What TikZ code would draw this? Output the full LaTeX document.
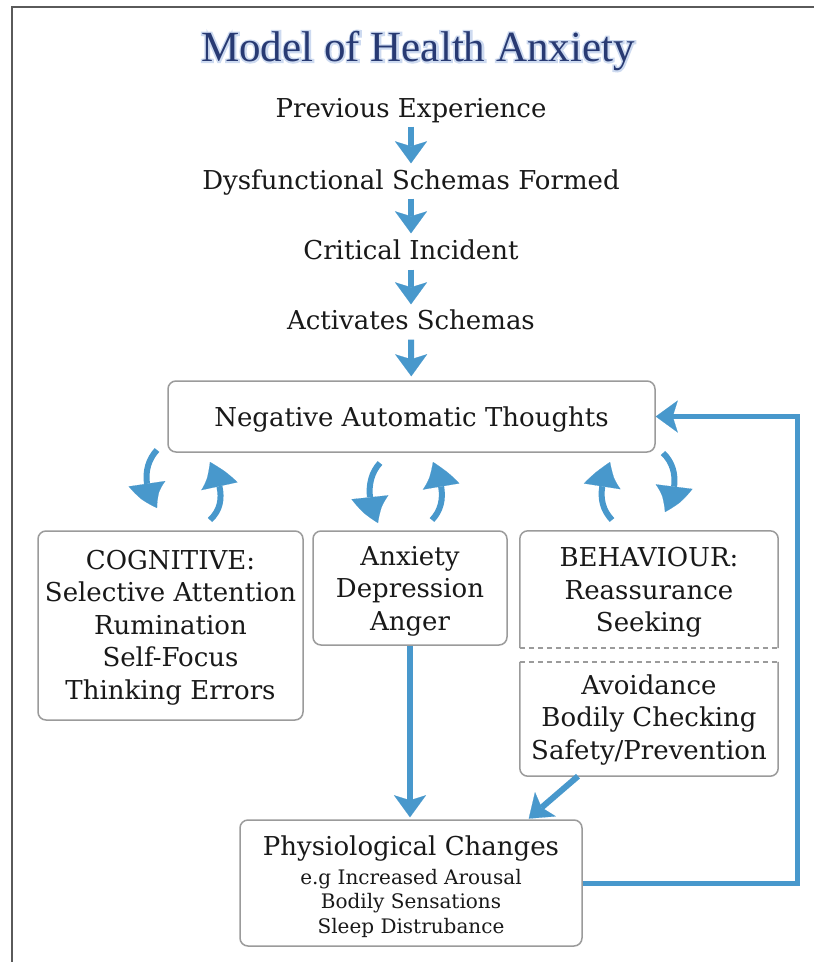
\documentclass[tikz,border=0pt]{standalone}
\usepackage{fontspec}
\setmainfont{DejaVu Serif}
\newfontfamily\titlefont{Liberation Serif}
\newfontfamily\halofont[FakeBold=8]{Liberation Serif}
\usetikzlibrary{arrows.meta,bending}
\definecolor{arrowblue}{RGB}{72,152,204}
\definecolor{boxgray}{RGB}{155,155,155}
\definecolor{titleblue}{RGB}{40,58,115}
\definecolor{halo}{RGB}{205,218,240}
\definecolor{txt}{RGB}{25,25,25}
\definecolor{framegray}{RGB}{90,90,90}
\newcommand{\subf}{\fontsize{20}{24.5}\selectfont}
\newcommand{\mlines}[2]{\raisebox{#1}[\height][\depth]{\begin{tabular}{@{}c@{}}#2\end{tabular}}}
\begin{document}
\begin{tikzpicture}[x=1pt,y=-1pt,
  lbl/.style={text=txt, font=\fontsize{26}{32.5}\selectfont, inner sep=0pt, text height=22pt, text depth=3pt},
  box/.style={text=txt, font=\fontsize{26}{32.5}\selectfont, inner sep=0pt, draw=boxgray, line width=1.5pt, rounded corners=8pt},
  plainbox/.style={text=txt, font=\fontsize{26}{32.5}\selectfont, inner sep=0pt},
  border/.style={draw=boxgray, line width=1.5pt, rounded corners=8pt},
  dashline/.style={draw=boxgray, line width=1.5pt, dash pattern=on 5pt off 4pt},
  flow/.style={draw=arrowblue, line width=6pt, -{Stealth[length=22pt,width=32pt,inset=5pt,line width=0.1pt]}},
  curv/.style={draw=arrowblue, line width=6pt, -{Triangle[length=28pt,width=37pt,line width=0.1pt,bend]}},
  fb/.style={draw=arrowblue, line width=5pt, -{Stealth[length=22pt,width=32pt,inset=5pt,line width=0.1pt]}},
  titletext/.style={font=\titlefont\fontsize{43}{43}\selectfont, inner sep=0pt}
]
\useasboundingbox (0,0) rectangle (814,962);
\fill[white] (0,0) rectangle (814,962);
% frame
\draw[framegray, line width=2.5pt] (12,962) -- (12,7) -- (814,7);

% title with halo
\node[font=\halofont\fontsize{43}{43}\selectfont, inner sep=0pt, text=halo] (halo) at (418,51) {Model of Health Anxiety};
\node[titletext, text=titleblue] (title) at (418,51) {Model of Health Anxiety};

% chain
\node[lbl] (prev) at (411,108) {Previous Experience};
\node[lbl] (dys) at (411,180) {Dysfunctional Schemas Formed};
\node[lbl] (crit) at (411,250) {Critical Incident};
\node[lbl] (act) at (411,320) {Activates Schemas};
\node[box, minimum width=487pt, minimum height=71pt] (nat) at (411.5,416.5) {\raisebox{-3pt}[\height][\depth]{Negative Automatic Thoughts}};

\draw[flow, shorten <=6pt, shorten >=4pt] (prev) -- (dys);
\draw[flow, shorten <=6pt, shorten >=4pt] (dys) -- (crit);
\draw[flow, shorten <=7pt, shorten >=3pt] (crit) -- (act);
\draw[flow, shorten <=7pt, shorten >=4pt] (act) -- (nat);

% boxes
\node[box, minimum width=265pt, minimum height=189pt] (cog) at (170.5,625.5)
  {\mlines{-2pt}{COGNITIVE:\\Selective Attention\\Rumination\\Self-Focus\\Thinking Errors}};
\node[box, minimum width=194pt, minimum height=114pt] (anx) at (410,588)
  {\mlines{-3pt}{Anxiety\\Depression\\Anger}};
\node[plainbox, minimum width=258pt, minimum height=117pt] (beh1) at (649,589.5)
  {\mlines{-3pt}{BEHAVIOUR:\\Reassurance\\Seeking}};
\node[plainbox, minimum width=258pt, minimum height=114pt] (beh2) at (649,719)
  {\mlines{-1pt}{Avoidance\\Bodily Checking\\Safety/Prevention}};
\draw[border] (beh1.south west) -- (beh1.north west) -- (beh1.north east) -- (beh1.south east);
\draw[dashline] (beh1.south west) -- (beh1.south east);
\draw[dashline] (beh2.north west) -- (beh2.north east);
\draw[border] (beh2.north west) -- (beh2.south west) -- (beh2.south east) -- (beh2.north east);

\node[box, minimum width=342pt, minimum height=126pt] (phys) at (411,883)
  {\mlines{-5pt}{Physiological Changes\\[-4pt]\subf e.g Increased Arousal\\[-8pt]\subf Bodily Sensations\\[-8pt]\subf Sleep Distrubance}};

% curved arrows
\draw[curv] (157,450) .. controls (143,465) and (143,488) .. (157,508);
\draw[curv] (210,520) .. controls (226,505) and (222,485) .. (210,462);
\draw[curv] (380,463) .. controls (366,478) and (367,502) .. (378,523);
\draw[curv] (432,520) .. controls (446,505) and (444,486) .. (433,462);
\draw[curv] (612,520) .. controls (598,505) and (599,487) .. (610,462);
\draw[curv] (663,453) .. controls (679,468) and (677,492) .. (665,512);

% down to physiological
\draw[flow, shorten >=2pt] (anx.south) -- (anx.south |- phys.north);
\draw[flow, shorten >=1pt] ([xshift=-71pt]beh2.south) -- ([xshift=117pt]phys.north);

% feedback loop
\coordinate (fbc) at (797,416.5);
\draw[fb] (phys.east) -| (fbc) -- (nat.east);
\end{tikzpicture}
\end{document}
